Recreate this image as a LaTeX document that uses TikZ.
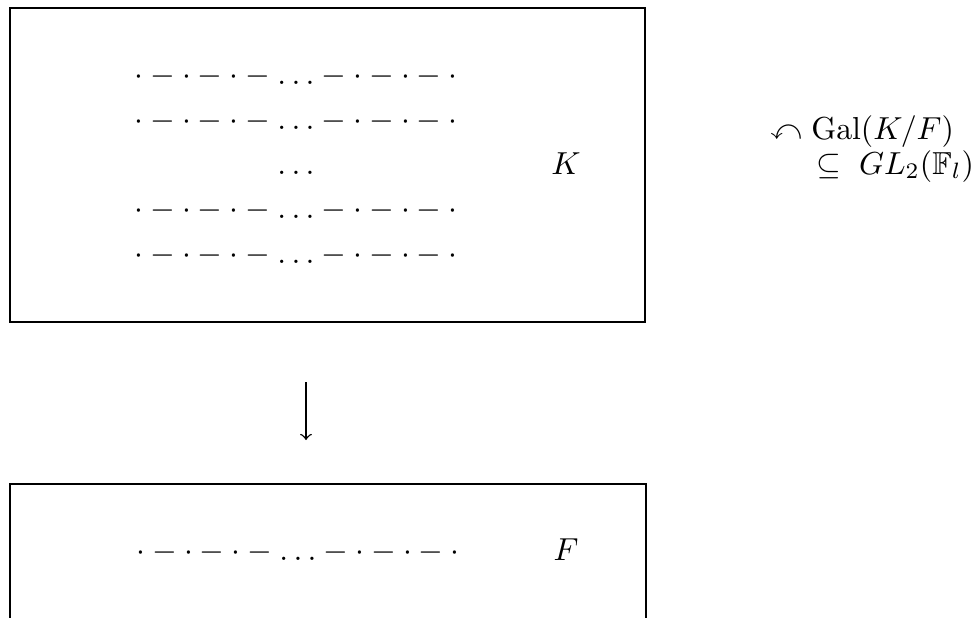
\documentclass[tikz,border=0pt]{standalone}
\usepackage{amssymb}
\begin{document}
\begin{tikzpicture}[x=0.3145pt,y=-0.3145pt,
  box/.style={draw,line width=0.63pt,rectangle,inner sep=0pt},
  txt/.style={anchor=base,inner sep=0pt},
  txtw/.style={anchor=base west,inner sep=0pt}]
\path[use as bounding box,clip] (0,0) rectangle (979,617);
% boxes
\node[box,minimum width=199.7pt,minimum height=98.75pt] (Kbox) at (327.5,165) {};
\node[box,minimum width=200.0pt,minimum height=94.35pt] (Fbox) at (328,634) {};
% rows in K
\node[txt] (r1) at (296,85) {$\cdot - \cdot - \cdot - \ldots - \cdot - \cdot - \cdot$};
\node[txt] (r2) at (296,129.5) {$\cdot - \cdot - \cdot - \ldots - \cdot - \cdot - \cdot$};
\node[txt] (r3) at (296,174) {$\ldots$};
\node[txt] (r4) at (296,218.5) {$\cdot - \cdot - \cdot - \ldots - \cdot - \cdot - \cdot$};
\node[txt] (r5) at (296,263) {$\cdot - \cdot - \cdot - \ldots - \cdot - \cdot - \cdot$};
\node[txt] (K) at (566,174) {$K$};
% row in F
\node[txt] (f1) at (298,560) {$\cdot - \cdot - \cdot - \ldots - \cdot - \cdot - \cdot$};
\node[txt] (F) at (566,560) {$F$};
% arrow
\coordinate (a1) at (306,382);
\coordinate (a2) at (306,440);
\draw[->,line width=0.45pt] (a1) -- (a2);
% right text
\node[txtw] (g1) at (770,139) {$\curvearrowleft \mathrm{Gal}(K/F)$};
\node[txtw] (g2) at (816,174) {$\subseteq\; GL_2(\mathbb{F}_l)$};
\end{tikzpicture}
\end{document}
